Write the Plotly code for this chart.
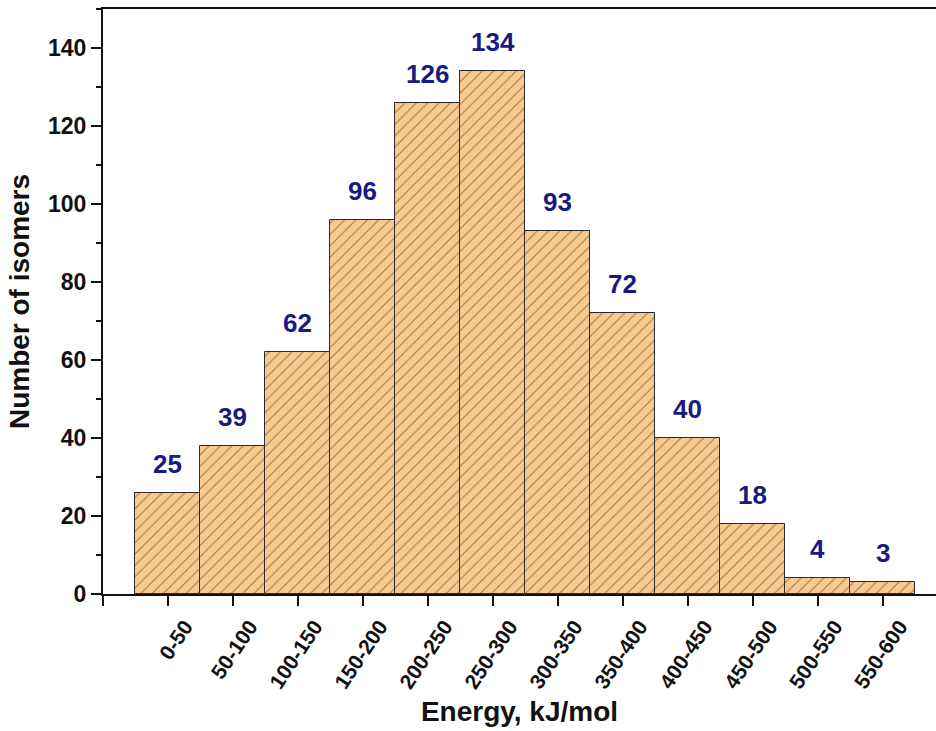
import plotly.graph_objects as go

categories = ["0-50", "50-100", "100-150", "150-200", "200-250", "250-300",
              "300-350", "350-400", "400-450", "450-500", "500-550", "550-600"]
bar_heights = [26, 38, 62, 96, 126, 134, 93, 72, 40, 18, 4, 3]
bar_labels = ["25", "39", "62", "96", "126", "134", "93", "72", "40", "18", "4", "3"]
y_ticks = [0, 20, 40, 60, 80, 100, 120, 140]

xpos = list(range(len(categories)))
FONT = "Liberation Sans, Arial"

fig = go.Figure()
fig.add_trace(go.Bar(
    x=xpos, y=bar_heights, width=1.0,
    marker=dict(color="#F9C98D",
                line=dict(color="#2b2b2b", width=1),
                pattern=dict(shape="/", fgcolor="#2a2a2a", bgcolor="#F9C98D",
                             size=8, solidity=0.13)),
    showlegend=False, hoverinfo="skip",
))

for xi, h, t in zip(xpos, bar_heights, bar_labels):
    fig.add_annotation(x=xi, y=h, text="<b>%s</b>" % t, showarrow=False,
                       yanchor="bottom", yshift=12,
                       font=dict(family=FONT, size=26, color="#1a1a85"))

fig.update_layout(
    width=936, height=731,
    margin=dict(l=103, r=0, t=9, b=137),
    paper_bgcolor="white", plot_bgcolor="white",
    bargap=0,
    font=dict(family=FONT),
    xaxis=dict(
        range=[-1, 11.82],
        automargin=False,
        tickmode="array",
        tickvals=[-1] + xpos,
        ticktext=[""] + ["<b>%s</b>" % c for c in categories],
        tickangle=-56,
        ticklabelshift=17,
        ticks="outside", ticklen=10, tickwidth=2, tickcolor="#111111",
        showline=True, linewidth=2, linecolor="#111111", mirror=True,
        showgrid=False, zeroline=False,
        tickfont=dict(family=FONT, size=21, color="#111111"),
        title=dict(text="<b>Energy, kJ/mol</b>",
                   font=dict(family=FONT, size=28, color="#111111"),
                   standoff=10),
    ),
    yaxis=dict(
        range=[0, 150],
        automargin=False,
        tickmode="array",
        tickvals=y_ticks,
        ticktext=["<b>%d</b>" % v for v in y_ticks],
        ticks="outside", ticklen=10, tickwidth=2, tickcolor="#111111",
        minor=dict(ticks="outside", ticklen=5, tickwidth=2, tickcolor="#111111",
                   dtick=10, tick0=0, showgrid=False),
        showline=True, linewidth=2, linecolor="#111111",
        showgrid=False, zeroline=False,
        tickfont=dict(family=FONT, size=23, color="#111111"),
        title=dict(text="<b>Number of isomers</b>",
                   font=dict(family=FONT, size=28, color="#111111"),
                   standoff=10),
    ),
)

fig.write_html("out.html", config={"displayModeBar": False},
               post_script="document.body.style.margin='0';document.body.style.overflow='hidden';")
